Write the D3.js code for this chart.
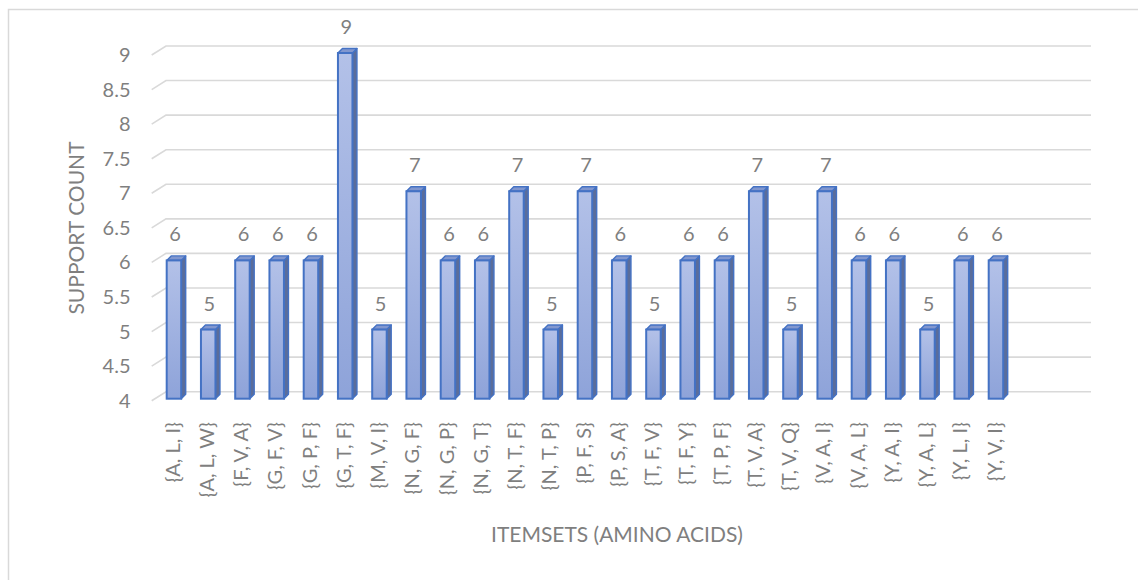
<!DOCTYPE html>
<html>
<head>
<meta charset="utf-8">
<script src="https://cdn.jsdelivr.net/npm/d3@7"></script>
<style>
  html, body { margin: 0; padding: 0; background: #fff; }
  svg { display: block; font-family: Lato, "Open Sans", sans-serif; }
</style>
</head>
<body>
<svg id="chart" width="1138" height="580"></svg>
<script>
// Itemsets and their support counts
const itemsets = [
  "{A, L, I}", "{A, L, W}", "{F, V, A}", "{G, F, V}", "{G, P, F}",
  "{G, T, F}", "{M, V, I}", "{N, G, F}", "{N, G, P}", "{N, G, T}",
  "{N, T, F}", "{N, T, P}", "{P, F, S}", "{P, S, A}", "{T, F, V}",
  "{T, F, Y}", "{T, P, F}", "{T, V, A}", "{T, V, Q}", "{V, A, I}",
  "{V, A, L}", "{Y, A, I}", "{Y, A, L}", "{Y, L, I}", "{Y, V, I}"
];
const supportCount = [
  6, 5, 6, 6, 6,
  9, 5, 7, 6, 6,
  7, 5, 7, 6, 5,
  6, 6, 7, 5, 7,
  6, 6, 5, 6, 6
];
const yTicks = [4, 4.5, 5, 5.5, 6, 6.5, 7, 7.5, 8, 8.5, 9];
const xTitle = "ITEMSETS (AMINO ACIDS)";
const yTitle = "SUPPORT COUNT";

const svg = d3.select("#chart");
const textColor = "#7f7f7f";

// Oblique 3-D layout: back wall plus floor depth
const wallLeft = 166, wallRight = 1091;
const floorDx = -14.3, floorDy = 9;     // front edge of floor relative to back wall
const barFrontDy = 7;                   // bar front face sits slightly in front of the wall
const barDepth = 4.5;                   // depth of each column
const step = 34.25;

const y = d3.scaleLinear().domain([4, 9]).range([391.7, 46]);
const x = d3.scaleBand()
  .domain(itemsets)
  .range([wallLeft, wallLeft + step * itemsets.length])
  .paddingInner(0).paddingOuter(0);
const barW = 14.5, barOff = 0.7;

// chart area border
svg.append("rect")
  .attr("x", 8.5).attr("y", 9.5)
  .attr("width", 1138).attr("height", 600)
  .attr("fill", "none").attr("stroke", "#d9d9d9").attr("stroke-width", 1.5);

// gridlines: slanted side-wall segment plus the back-wall line
const grid = svg.append("g").attr("class", "grid");
grid.selectAll("path").data(yTicks).join("path")
  .attr("d", d => {
    const yy = y(d);
    return `M${wallLeft + floorDx},${yy + floorDy}L${wallLeft},${yy}L${wallRight},${yy}`;
  })
  .attr("fill", "none").attr("stroke", "#d9d9d9").attr("stroke-width", 1.6);

// y tick labels at the front edge
svg.append("g").selectAll("text").data(yTicks).join("text")
  .attr("x", 130.5)
  .attr("y", d => y(d) + floorDy)
  .attr("dy", "0.35em")
  .attr("text-anchor", "end")
  .attr("fill", textColor)
  .attr("font-size", 20)
  .text(d => d3.format("~g")(d));

// column gradient
const defs = svg.append("defs");
const grad = defs.append("linearGradient").attr("id", "colFace")
  .attr("x1", 0).attr("y1", 0).attr("x2", 0).attr("y2", 1);
grad.append("stop").attr("offset", "0%").attr("stop-color", "#b3c1e8");
grad.append("stop").attr("offset", "100%").attr("stop-color", "#8ea3d9");

const data = itemsets.map((c, i) => ({ c, v: supportCount[i] }));
const bars = svg.append("g").attr("class", "bars")
  .selectAll("g").data(data).join("g");

const outline = "#4472c4";
bars.each(function(d) {
  const g = d3.select(this);
  const x0 = x(d.c) + barOff, x1 = x0 + barW;
  const top = y(d.v) + barFrontDy, bot = y(4) + barFrontDy;
  // side face
  g.append("path")
    .attr("d", `M${x1},${top}L${x1 + barDepth},${top - barDepth}L${x1 + barDepth},${bot - barDepth}L${x1},${bot}Z`)
    .attr("fill", "#5a6d9b").attr("stroke", outline).attr("stroke-width", 1.4)
    .attr("stroke-linejoin", "round");
  // top face
  g.append("path")
    .attr("d", `M${x0},${top}L${x0 + barDepth},${top - barDepth}L${x1 + barDepth},${top - barDepth}L${x1},${top}Z`)
    .attr("fill", "#8197cf").attr("stroke", outline).attr("stroke-width", 1.4)
    .attr("stroke-linejoin", "round");
  // front face
  g.append("rect")
    .attr("x", x0).attr("y", top)
    .attr("width", barW).attr("height", bot - top)
    .attr("fill", "url(#colFace)").attr("stroke", outline).attr("stroke-width", 2);
  // value label
  g.append("text")
    .attr("x", x0 + barW / 2 + 1)
    .attr("y", top - 19)
    .attr("text-anchor", "middle")
    .attr("fill", textColor)
    .attr("font-size", 20)
    .text(d.v);
});

// category labels, rotated
svg.append("g").selectAll("text").data(itemsets).join("text")
  .attr("transform", d => `translate(${x(d) + 6.5},422) rotate(-90)`)
  .attr("dy", "0.35em")
  .attr("text-anchor", "end")
  .attr("fill", textColor)
  .attr("font-size", 20)
  .text(d => d);

// axis titles
svg.append("text")
  .attr("x", 617).attr("y", 535)
  .attr("dy", "0.35em")
  .attr("text-anchor", "middle")
  .attr("fill", textColor)
  .attr("font-size", 21)
  .text(xTitle);

svg.append("text")
  .attr("transform", "translate(77,228) rotate(-90)")
  .attr("dy", "0.35em")
  .attr("text-anchor", "middle")
  .attr("fill", textColor)
  .attr("font-size", 21)
  .text(yTitle);
</script>
</body>
</html>
